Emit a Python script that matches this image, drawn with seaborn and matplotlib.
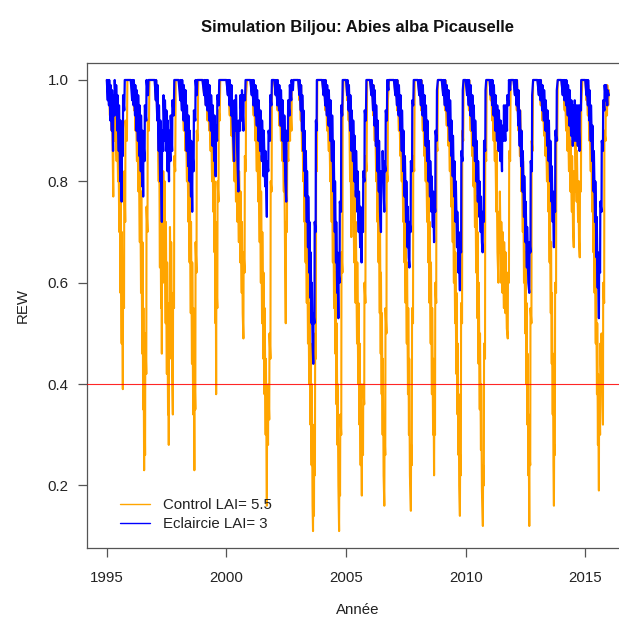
import matplotlib
matplotlib.use("Agg")
import matplotlib.pyplot as plt
import seaborn as sns
import pandas as pd

# Control (LAI 5.5): decimal year / REW, one row per year
ctrl_time = [
    [1995.00, 1995.06, 1995.08, 1995.13, 1995.14, 1995.20, 1995.21, 1995.27, 1995.28, 1995.34, 1995.35, 1995.41, 1995.42, 1995.47, 1995.48, 1995.52, 1995.53, 1995.57, 1995.58, 1995.62, 1995.63, 1995.67, 1995.68, 1995.72, 1995.73, 1995.77, 1995.78, 1995.84, 1995.86],
    [1996.00, 1996.08, 1996.09, 1996.14, 1996.15, 1996.20, 1996.21, 1996.26, 1996.27, 1996.32, 1996.33, 1996.38, 1996.39, 1996.43, 1996.44, 1996.48, 1996.49, 1996.52, 1996.53, 1996.56, 1996.57, 1996.60, 1996.61, 1996.65, 1996.66, 1996.70, 1996.71, 1996.76, 1996.78],
    [1997.00, 1997.05, 1997.06, 1997.11, 1997.12, 1997.17, 1997.18, 1997.22, 1997.23, 1997.27, 1997.28, 1997.30, 1997.31, 1997.35, 1997.36, 1997.41, 1997.42, 1997.46, 1997.47, 1997.51, 1997.52, 1997.56, 1997.57, 1997.59, 1997.60, 1997.63, 1997.64, 1997.68, 1997.69, 1997.73, 1997.76, 1997.77, 1997.81, 1997.82, 1997.86, 1997.88],
    [1998.00, 1998.08, 1998.09, 1998.15, 1998.16, 1998.22, 1998.23, 1998.29, 1998.30, 1998.35, 1998.36, 1998.41, 1998.42, 1998.46, 1998.47, 1998.51, 1998.52, 1998.56, 1998.57, 1998.61, 1998.62, 1998.66, 1998.67, 1998.70, 1998.71, 1998.75, 1998.76, 1998.80, 1998.82],
    [1999.00, 1999.07, 1999.08, 1999.14, 1999.15, 1999.21, 1999.22, 1999.28, 1999.29, 1999.34, 1999.35, 1999.40, 1999.41, 1999.45, 1999.46, 1999.50, 1999.51, 1999.54, 1999.55, 1999.57, 1999.58, 1999.62, 1999.63, 1999.67, 1999.68, 1999.72, 1999.74],
    [2000.00, 2000.07, 2000.08, 2000.14, 2000.15, 2000.21, 2000.22, 2000.28, 2000.29, 2000.34, 2000.35, 2000.40, 2000.41, 2000.46, 2000.47, 2000.52, 2000.53, 2000.58, 2000.59, 2000.64, 2000.65, 2000.68, 2000.71, 2000.72, 2000.76, 2000.77, 2000.81, 2000.82, 2000.86],
    [2001.00, 2001.07, 2001.08, 2001.14, 2001.15, 2001.21, 2001.22, 2001.27, 2001.28, 2001.33, 2001.34, 2001.39, 2001.40, 2001.44, 2001.45, 2001.49, 2001.50, 2001.54, 2001.55, 2001.59, 2001.60, 2001.64, 2001.65, 2001.69, 2001.70, 2001.74, 2001.75, 2001.79, 2001.80, 2001.84, 2001.85, 2001.89, 2001.90, 2001.93],
    [2002.00, 2002.07, 2002.08, 2002.14, 2002.15, 2002.21, 2002.22, 2002.28, 2002.29, 2002.34, 2002.35, 2002.40, 2002.41, 2002.45, 2002.48, 2002.49, 2002.53, 2002.54, 2002.59, 2002.60, 2002.66, 2002.67, 2002.72, 2002.73, 2002.78],
    [2003.00, 2003.05, 2003.06, 2003.11, 2003.12, 2003.16, 2003.17, 2003.21, 2003.22, 2003.26, 2003.27, 2003.31, 2003.32, 2003.36, 2003.37, 2003.41, 2003.42, 2003.46, 2003.47, 2003.51, 2003.52, 2003.56, 2003.57, 2003.60, 2003.62, 2003.63, 2003.66, 2003.67, 2003.70, 2003.71, 2003.74, 2003.75, 2003.78, 2003.80],
    [2004.00, 2004.07, 2004.08, 2004.14, 2004.15, 2004.21, 2004.22, 2004.28, 2004.29, 2004.34, 2004.35, 2004.40, 2004.41, 2004.45, 2004.46, 2004.50, 2004.51, 2004.55, 2004.56, 2004.60, 2004.61, 2004.64, 2004.65, 2004.68, 2004.71, 2004.72, 2004.75, 2004.76, 2004.80, 2004.81, 2004.85, 2004.86, 2004.90],
    [2005.00, 2005.05, 2005.06, 2005.11, 2005.12, 2005.17, 2005.18, 2005.22, 2005.23, 2005.28, 2005.29, 2005.34, 2005.35, 2005.40, 2005.41, 2005.46, 2005.47, 2005.51, 2005.52, 2005.56, 2005.57, 2005.61, 2005.62, 2005.66, 2005.67, 2005.71, 2005.72, 2005.76, 2005.77, 2005.81, 2005.82, 2005.86, 2005.88],
    [2006.00, 2006.07, 2006.08, 2006.14, 2006.15, 2006.20, 2006.21, 2006.26, 2006.27, 2006.31, 2006.32, 2006.36, 2006.37, 2006.41, 2006.42, 2006.45, 2006.46, 2006.49, 2006.50, 2006.53, 2006.54, 2006.57, 2006.60, 2006.61, 2006.64, 2006.65, 2006.69, 2006.70, 2006.74, 2006.75, 2006.80],
    [2007.00, 2007.07, 2007.08, 2007.14, 2007.15, 2007.21, 2007.22, 2007.27, 2007.28, 2007.33, 2007.34, 2007.39, 2007.40, 2007.44, 2007.45, 2007.49, 2007.50, 2007.54, 2007.55, 2007.59, 2007.60, 2007.63, 2007.64, 2007.67, 2007.71, 2007.72, 2007.75, 2007.76, 2007.80, 2007.81, 2007.85, 2007.87],
    [2008.00, 2008.07, 2008.08, 2008.14, 2008.15, 2008.21, 2008.22, 2008.27, 2008.28, 2008.33, 2008.34, 2008.39, 2008.40, 2008.44, 2008.45, 2008.49, 2008.50, 2008.54, 2008.55, 2008.59, 2008.60, 2008.64, 2008.65, 2008.68, 2008.69, 2008.72, 2008.73, 2008.77, 2008.78, 2008.82, 2008.84],
    [2009.00, 2009.07, 2009.08, 2009.14, 2009.15, 2009.21, 2009.22, 2009.28, 2009.29, 2009.34, 2009.35, 2009.40, 2009.41, 2009.46, 2009.47, 2009.51, 2009.52, 2009.56, 2009.57, 2009.61, 2009.62, 2009.66, 2009.67, 2009.70, 2009.71, 2009.73, 2009.76, 2009.77, 2009.80, 2009.81, 2009.85, 2009.86, 2009.90, 2009.92],
    [2010.00, 2010.07, 2010.08, 2010.14, 2010.15, 2010.21, 2010.22, 2010.27, 2010.28, 2010.33, 2010.34, 2010.39, 2010.40, 2010.44, 2010.45, 2010.49, 2010.50, 2010.54, 2010.55, 2010.59, 2010.60, 2010.64, 2010.65, 2010.68, 2010.72, 2010.73, 2010.76, 2010.77, 2010.81, 2010.82, 2010.86, 2010.88],
    [2011.00, 2011.05, 2011.06, 2011.11, 2011.12, 2011.17, 2011.18, 2011.22, 2011.23, 2011.28, 2011.29, 2011.33, 2011.37, 2011.38, 2011.42, 2011.43, 2011.48, 2011.49, 2011.54, 2011.55, 2011.60, 2011.61, 2011.66, 2011.67, 2011.72, 2011.76, 2011.77, 2011.81, 2011.82, 2011.86, 2011.88],
    [2012.00, 2012.07, 2012.08, 2012.14, 2012.15, 2012.21, 2012.22, 2012.27, 2012.28, 2012.33, 2012.34, 2012.39, 2012.40, 2012.44, 2012.45, 2012.49, 2012.50, 2012.54, 2012.55, 2012.58, 2012.59, 2012.62, 2012.63, 2012.66, 2012.67, 2012.70, 2012.71, 2012.75, 2012.76, 2012.80, 2012.82],
    [2013.00, 2013.07, 2013.08, 2013.14, 2013.15, 2013.21, 2013.22, 2013.28, 2013.29, 2013.34, 2013.35, 2013.40, 2013.41, 2013.46, 2013.47, 2013.51, 2013.52, 2013.56, 2013.57, 2013.60, 2013.61, 2013.64, 2013.65, 2013.67, 2013.69, 2013.70, 2013.73, 2013.74, 2013.78, 2013.79, 2013.83, 2013.85],
    [2014.00, 2014.07, 2014.08, 2014.14, 2014.15, 2014.20, 2014.21, 2014.26, 2014.27, 2014.32, 2014.33, 2014.38, 2014.39, 2014.44, 2014.45, 2014.49, 2014.52, 2014.53, 2014.58, 2014.59, 2014.64, 2014.65, 2014.70, 2014.71, 2014.74, 2014.77, 2014.78, 2014.82, 2014.83, 2014.88],
    [2015.00, 2015.05, 2015.06, 2015.11, 2015.12, 2015.17, 2015.18, 2015.23, 2015.24, 2015.29, 2015.30, 2015.34, 2015.35, 2015.39, 2015.40, 2015.44, 2015.45, 2015.49, 2015.50, 2015.53, 2015.54, 2015.57, 2015.58, 2015.62, 2015.63, 2015.67, 2015.68, 2015.72, 2015.74, 2015.75, 2015.79, 2015.80, 2015.85, 2015.86, 2015.91, 2015.92, 2015.96, 2015.99],
]
ctrl_rew = [
    [1.00, 0.97, 1.00, 0.93, 0.99, 0.90, 0.97, 0.77, 0.95, 0.88, 0.97, 0.84, 0.95, 0.80, 0.92, 0.70, 0.85, 0.58, 0.80, 0.48, 0.70, 0.39, 0.62, 0.55, 0.82, 0.72, 0.92, 0.88, 1.00],
    [1.00, 0.97, 1.00, 0.94, 0.99, 0.90, 0.97, 0.84, 0.95, 0.78, 0.90, 0.68, 0.85, 0.58, 0.78, 0.46, 0.68, 0.35, 0.55, 0.23, 0.40, 0.26, 0.50, 0.42, 0.75, 0.70, 0.92, 0.90, 1.00],
    [1.00, 0.96, 1.00, 0.92, 0.99, 0.80, 0.95, 0.63, 0.85, 0.55, 0.78, 0.46, 0.70, 0.60, 0.82, 0.64, 0.80, 0.52, 0.72, 0.42, 0.64, 0.34, 0.56, 0.28, 0.50, 0.45, 0.71, 0.55, 0.68, 0.42, 0.34, 0.58, 0.55, 0.85, 0.82, 1.00],
    [1.00, 0.97, 1.00, 0.94, 0.99, 0.90, 0.98, 0.86, 0.95, 0.80, 0.92, 0.72, 0.86, 0.64, 0.80, 0.54, 0.72, 0.44, 0.64, 0.34, 0.55, 0.23, 0.42, 0.35, 0.68, 0.62, 0.90, 0.88, 1.00],
    [1.00, 0.97, 1.00, 0.95, 1.00, 0.92, 0.99, 0.90, 0.97, 0.86, 0.95, 0.80, 0.92, 0.74, 0.87, 0.66, 0.80, 0.52, 0.72, 0.38, 0.60, 0.55, 0.80, 0.76, 0.94, 0.92, 1.00],
    [1.00, 0.97, 1.00, 0.93, 0.99, 0.89, 0.97, 0.84, 0.95, 0.80, 0.92, 0.76, 0.90, 0.72, 0.86, 0.68, 0.82, 0.64, 0.78, 0.58, 0.72, 0.54, 0.49, 0.66, 0.62, 0.85, 0.82, 0.97, 1.00],
    [1.00, 0.97, 1.00, 0.93, 0.99, 0.88, 0.97, 0.82, 0.94, 0.76, 0.90, 0.68, 0.85, 0.60, 0.78, 0.52, 0.70, 0.45, 0.62, 0.38, 0.55, 0.30, 0.45, 0.16, 0.34, 0.28, 0.40, 0.33, 0.50, 0.45, 0.80, 0.78, 0.96, 1.00],
    [1.00, 0.97, 1.00, 0.94, 1.00, 0.91, 0.98, 0.88, 0.96, 0.84, 0.93, 0.78, 0.90, 0.66, 0.52, 0.72, 0.70, 0.86, 0.84, 0.95, 0.88, 0.96, 0.90, 0.98, 1.00],
    [1.00, 0.96, 1.00, 0.92, 0.99, 0.86, 0.96, 0.80, 0.92, 0.72, 0.86, 0.64, 0.80, 0.56, 0.72, 0.48, 0.64, 0.40, 0.56, 0.32, 0.48, 0.24, 0.40, 0.16, 0.11, 0.22, 0.14, 0.32, 0.22, 0.50, 0.45, 0.85, 0.82, 1.00],
    [1.00, 0.97, 1.00, 0.94, 1.00, 0.90, 0.98, 0.86, 0.95, 0.80, 0.92, 0.72, 0.86, 0.64, 0.80, 0.55, 0.72, 0.46, 0.62, 0.36, 0.52, 0.28, 0.40, 0.20, 0.11, 0.24, 0.18, 0.34, 0.30, 0.66, 0.62, 0.95, 1.00],
    [1.00, 0.96, 1.00, 0.92, 0.99, 0.80, 0.94, 0.69, 0.86, 0.72, 0.84, 0.64, 0.78, 0.56, 0.72, 0.48, 0.64, 0.40, 0.56, 0.32, 0.48, 0.24, 0.40, 0.18, 0.30, 0.26, 0.40, 0.36, 0.60, 0.56, 0.85, 0.82, 1.00],
    [1.00, 0.97, 1.00, 0.93, 0.99, 0.88, 0.96, 0.80, 0.92, 0.72, 0.86, 0.64, 0.80, 0.54, 0.72, 0.46, 0.62, 0.38, 0.54, 0.30, 0.45, 0.22, 0.16, 0.30, 0.26, 0.55, 0.50, 0.82, 0.80, 0.96, 1.00],
    [1.00, 0.97, 1.00, 0.94, 1.00, 0.90, 0.97, 0.85, 0.94, 0.80, 0.90, 0.72, 0.85, 0.64, 0.78, 0.56, 0.72, 0.48, 0.64, 0.38, 0.55, 0.30, 0.45, 0.22, 0.15, 0.28, 0.24, 0.55, 0.52, 0.85, 0.82, 1.00],
    [1.00, 0.97, 1.00, 0.94, 1.00, 0.90, 0.97, 0.85, 0.94, 0.80, 0.90, 0.72, 0.85, 0.64, 0.78, 0.56, 0.72, 0.48, 0.64, 0.38, 0.55, 0.30, 0.45, 0.22, 0.34, 0.30, 0.60, 0.56, 0.88, 0.86, 1.00],
    [1.00, 0.97, 1.00, 0.94, 1.00, 0.91, 0.98, 0.87, 0.95, 0.82, 0.92, 0.75, 0.88, 0.68, 0.80, 0.60, 0.74, 0.52, 0.66, 0.42, 0.58, 0.34, 0.48, 0.26, 0.38, 0.20, 0.14, 0.26, 0.22, 0.56, 0.52, 0.90, 0.88, 1.00],
    [1.00, 0.97, 1.00, 0.94, 1.00, 0.90, 0.97, 0.85, 0.94, 0.79, 0.90, 0.71, 0.85, 0.62, 0.77, 0.53, 0.70, 0.44, 0.60, 0.35, 0.50, 0.27, 0.40, 0.19, 0.12, 0.24, 0.20, 0.48, 0.45, 0.86, 0.84, 1.00],
    [1.00, 0.96, 1.00, 0.92, 0.99, 0.88, 0.96, 0.84, 0.92, 0.74, 0.86, 0.66, 0.60, 0.74, 0.66, 0.78, 0.60, 0.72, 0.58, 0.70, 0.55, 0.68, 0.54, 0.66, 0.51, 0.49, 0.62, 0.60, 0.86, 0.84, 1.00],
    [1.00, 0.97, 1.00, 0.94, 1.00, 0.90, 0.97, 0.85, 0.94, 0.78, 0.90, 0.70, 0.84, 0.60, 0.76, 0.50, 0.66, 0.40, 0.56, 0.32, 0.46, 0.22, 0.34, 0.12, 0.26, 0.24, 0.55, 0.52, 0.88, 0.86, 1.00],
    [1.00, 0.97, 1.00, 0.95, 1.00, 0.92, 0.98, 0.89, 0.96, 0.85, 0.93, 0.80, 0.90, 0.74, 0.85, 0.64, 0.78, 0.54, 0.68, 0.44, 0.58, 0.34, 0.46, 0.24, 0.16, 0.28, 0.26, 0.60, 0.58, 0.90, 0.88, 1.00],
    [1.00, 0.97, 1.00, 0.94, 0.99, 0.90, 0.97, 0.86, 0.94, 0.82, 0.92, 0.78, 0.88, 0.74, 0.85, 0.70, 0.67, 0.82, 0.78, 0.88, 0.76, 0.86, 0.72, 0.80, 0.68, 0.65, 0.80, 0.78, 0.95, 1.00],
    [1.00, 0.96, 1.00, 0.93, 0.99, 0.88, 0.96, 0.82, 0.92, 0.74, 0.86, 0.66, 0.80, 0.58, 0.72, 0.48, 0.62, 0.38, 0.52, 0.28, 0.42, 0.19, 0.40, 0.30, 0.48, 0.40, 0.50, 0.36, 0.32, 0.60, 0.56, 0.90, 0.88, 0.98, 0.93, 0.99, 0.95, 0.98],
]

# Eclaircie (LAI 3)
ecl_time = [
    [1995.00, 1995.04, 1995.05, 1995.09, 1995.10, 1995.15, 1995.16, 1995.21, 1995.22, 1995.26, 1995.27, 1995.32, 1995.33, 1995.38, 1995.39, 1995.44, 1995.45, 1995.50, 1995.51, 1995.56, 1995.57, 1995.62, 1995.63, 1995.67, 1995.68, 1995.73, 1995.75],
    [1996.00, 1996.06, 1996.07, 1996.12, 1996.13, 1996.18, 1996.19, 1996.24, 1996.25, 1996.30, 1996.31, 1996.36, 1996.37, 1996.42, 1996.43, 1996.48, 1996.49, 1996.52, 1996.53, 1996.58, 1996.59, 1996.65, 1996.66, 1996.72, 1996.74],
    [1997.00, 1997.05, 1997.06, 1997.11, 1997.12, 1997.17, 1997.18, 1997.23, 1997.24, 1997.30, 1997.31, 1997.36, 1997.37, 1997.42, 1997.43, 1997.48, 1997.49, 1997.54, 1997.55, 1997.60, 1997.61, 1997.66, 1997.67, 1997.73, 1997.74, 1997.80, 1997.82],
    [1998.00, 1998.07, 1998.08, 1998.14, 1998.15, 1998.21, 1998.22, 1998.28, 1998.29, 1998.34, 1998.35, 1998.40, 1998.41, 1998.46, 1998.47, 1998.52, 1998.53, 1998.57, 1998.58, 1998.63, 1998.64, 1998.70, 1998.71, 1998.76, 1998.78],
    [1999.00, 1999.07, 1999.08, 1999.14, 1999.15, 1999.21, 1999.22, 1999.28, 1999.29, 1999.35, 1999.36, 1999.42, 1999.43, 1999.49, 1999.50, 1999.55, 1999.56, 1999.61, 1999.62, 1999.68, 1999.70],
    [2000.00, 2000.06, 2000.07, 2000.13, 2000.14, 2000.20, 2000.21, 2000.27, 2000.32, 2000.33, 2000.39, 2000.40, 2000.45, 2000.50, 2000.51, 2000.57, 2000.58, 2000.64, 2000.65, 2000.71, 2000.72, 2000.78, 2000.80],
    [2001.00, 2001.06, 2001.07, 2001.13, 2001.14, 2001.20, 2001.21, 2001.27, 2001.28, 2001.34, 2001.35, 2001.41, 2001.42, 2001.48, 2001.49, 2001.55, 2001.56, 2001.62, 2001.63, 2001.69, 2001.70, 2001.75, 2001.76, 2001.82, 2001.83, 2001.88, 2001.90],
    [2002.00, 2002.06, 2002.07, 2002.13, 2002.14, 2002.20, 2002.21, 2002.27, 2002.28, 2002.34, 2002.35, 2002.41, 2002.42, 2002.46, 2002.50, 2002.51, 2002.57, 2002.58, 2002.64, 2002.65, 2002.71, 2002.72, 2002.78, 2002.80],
    [2003.00, 2003.05, 2003.06, 2003.11, 2003.12, 2003.16, 2003.17, 2003.21, 2003.22, 2003.26, 2003.27, 2003.31, 2003.32, 2003.36, 2003.37, 2003.41, 2003.42, 2003.46, 2003.47, 2003.51, 2003.52, 2003.56, 2003.57, 2003.60, 2003.63, 2003.64, 2003.68, 2003.69, 2003.73, 2003.74, 2003.77, 2003.78],
    [2004.00, 2004.06, 2004.07, 2004.13, 2004.14, 2004.20, 2004.21, 2004.27, 2004.28, 2004.34, 2004.35, 2004.41, 2004.42, 2004.47, 2004.48, 2004.53, 2004.54, 2004.58, 2004.59, 2004.63, 2004.64, 2004.68, 2004.69, 2004.73, 2004.74, 2004.79, 2004.80, 2004.84, 2004.86],
    [2005.00, 2005.05, 2005.06, 2005.11, 2005.12, 2005.17, 2005.18, 2005.23, 2005.24, 2005.29, 2005.30, 2005.35, 2005.36, 2005.41, 2005.42, 2005.47, 2005.48, 2005.53, 2005.54, 2005.59, 2005.60, 2005.65, 2005.66, 2005.71, 2005.72, 2005.77, 2005.78, 2005.83, 2005.85],
    [2006.00, 2006.06, 2006.07, 2006.13, 2006.14, 2006.19, 2006.20, 2006.25, 2006.26, 2006.31, 2006.32, 2006.37, 2006.38, 2006.42, 2006.46, 2006.47, 2006.52, 2006.53, 2006.57, 2006.60, 2006.61, 2006.65, 2006.66, 2006.71, 2006.72, 2006.77, 2006.78],
    [2007.00, 2007.06, 2007.07, 2007.13, 2007.14, 2007.20, 2007.21, 2007.27, 2007.28, 2007.33, 2007.34, 2007.39, 2007.40, 2007.45, 2007.46, 2007.51, 2007.52, 2007.57, 2007.58, 2007.62, 2007.65, 2007.66, 2007.70, 2007.71, 2007.76, 2007.77, 2007.81, 2007.83],
    [2008.00, 2008.06, 2008.07, 2008.13, 2008.14, 2008.20, 2008.21, 2008.27, 2008.28, 2008.33, 2008.34, 2008.39, 2008.40, 2008.45, 2008.46, 2008.51, 2008.52, 2008.57, 2008.58, 2008.63, 2008.64, 2008.68, 2008.69, 2008.73, 2008.74, 2008.79, 2008.80, 2008.84],
    [2009.00, 2009.06, 2009.07, 2009.13, 2009.14, 2009.20, 2009.21, 2009.27, 2009.28, 2009.34, 2009.35, 2009.40, 2009.41, 2009.46, 2009.47, 2009.52, 2009.53, 2009.58, 2009.59, 2009.64, 2009.65, 2009.70, 2009.71, 2009.76, 2009.77, 2009.81, 2009.82, 2009.87, 2009.88, 2009.91],
    [2010.00, 2010.06, 2010.07, 2010.13, 2010.14, 2010.20, 2010.21, 2010.27, 2010.28, 2010.33, 2010.34, 2010.39, 2010.40, 2010.45, 2010.46, 2010.51, 2010.52, 2010.57, 2010.58, 2010.63, 2010.64, 2010.68, 2010.71, 2010.72, 2010.76, 2010.77, 2010.82, 2010.83, 2010.86],
    [2011.00, 2011.05, 2011.06, 2011.11, 2011.12, 2011.17, 2011.18, 2011.24, 2011.25, 2011.31, 2011.32, 2011.38, 2011.39, 2011.45, 2011.46, 2011.52, 2011.53, 2011.59, 2011.60, 2011.66, 2011.67, 2011.73, 2011.74, 2011.80, 2011.81, 2011.86, 2011.88],
    [2012.00, 2012.06, 2012.07, 2012.13, 2012.14, 2012.20, 2012.21, 2012.26, 2012.27, 2012.32, 2012.33, 2012.38, 2012.39, 2012.44, 2012.45, 2012.50, 2012.51, 2012.56, 2012.57, 2012.62, 2012.66, 2012.67, 2012.71, 2012.72, 2012.77, 2012.78, 2012.82],
    [2013.00, 2013.06, 2013.07, 2013.13, 2013.14, 2013.20, 2013.21, 2013.27, 2013.28, 2013.34, 2013.35, 2013.41, 2013.42, 2013.47, 2013.48, 2013.53, 2013.54, 2013.59, 2013.60, 2013.64, 2013.65, 2013.69, 2013.70, 2013.74, 2013.75, 2013.80, 2013.81, 2013.85],
    [2014.00, 2014.06, 2014.07, 2014.13, 2014.14, 2014.20, 2014.21, 2014.27, 2014.28, 2014.34, 2014.35, 2014.41, 2014.42, 2014.48, 2014.49, 2014.55, 2014.56, 2014.62, 2014.63, 2014.69, 2014.70, 2014.76, 2014.77, 2014.82, 2014.83, 2014.88],
    [2015.00, 2015.05, 2015.06, 2015.11, 2015.12, 2015.17, 2015.18, 2015.23, 2015.24, 2015.29, 2015.30, 2015.35, 2015.36, 2015.41, 2015.42, 2015.47, 2015.48, 2015.52, 2015.53, 2015.57, 2015.58, 2015.62, 2015.63, 2015.68, 2015.69, 2015.74, 2015.75, 2015.80, 2015.81, 2015.86, 2015.87, 2015.92, 2015.93, 2015.99],
]
ecl_rew = [
    [1.00, 0.96, 1.00, 0.95, 1.00, 0.92, 0.99, 0.90, 0.98, 0.86, 0.97, 0.93, 1.00, 0.94, 0.99, 0.90, 0.97, 0.86, 0.95, 0.80, 0.92, 0.76, 0.90, 0.85, 0.97, 0.94, 1.00],
    [1.00, 0.96, 1.00, 0.95, 1.00, 0.93, 0.99, 0.90, 0.98, 0.88, 0.97, 0.85, 0.95, 0.82, 0.93, 0.79, 0.90, 0.77, 0.88, 0.84, 0.95, 0.92, 1.00, 0.97, 1.00],
    [1.00, 0.96, 1.00, 0.92, 0.99, 0.86, 0.95, 0.80, 0.92, 0.72, 0.90, 0.86, 0.97, 0.88, 0.96, 0.86, 0.94, 0.82, 0.92, 0.80, 0.90, 0.84, 0.93, 0.86, 0.96, 0.93, 1.00],
    [1.00, 0.96, 1.00, 0.94, 1.00, 0.92, 0.99, 0.90, 0.98, 0.86, 0.95, 0.83, 0.93, 0.80, 0.90, 0.77, 0.88, 0.74, 0.86, 0.82, 0.94, 0.92, 1.00, 0.97, 1.00],
    [1.00, 0.97, 1.00, 0.95, 1.00, 0.94, 1.00, 0.92, 0.99, 0.90, 0.97, 0.87, 0.95, 0.84, 0.93, 0.81, 0.91, 0.88, 0.97, 0.95, 1.00],
    [1.00, 0.97, 1.00, 0.95, 1.00, 0.93, 0.99, 0.90, 0.84, 0.96, 0.90, 0.97, 0.86, 0.78, 0.92, 0.90, 0.97, 0.92, 0.98, 0.90, 0.97, 0.96, 1.00],
    [1.00, 0.97, 1.00, 0.95, 1.00, 0.93, 0.99, 0.91, 0.98, 0.88, 0.96, 0.86, 0.94, 0.84, 0.92, 0.81, 0.90, 0.79, 0.86, 0.73, 0.84, 0.82, 0.90, 0.88, 0.97, 0.95, 1.00],
    [1.00, 0.97, 1.00, 0.95, 1.00, 0.94, 0.99, 0.91, 0.98, 0.88, 0.96, 0.84, 0.93, 0.80, 0.76, 0.90, 0.88, 0.96, 0.93, 0.99, 0.96, 1.00, 0.98, 1.00],
    [1.00, 0.97, 1.00, 0.94, 0.99, 0.90, 0.97, 0.86, 0.94, 0.82, 0.90, 0.77, 0.86, 0.72, 0.82, 0.67, 0.77, 0.62, 0.72, 0.57, 0.66, 0.52, 0.60, 0.48, 0.44, 0.54, 0.52, 0.72, 0.70, 0.92, 0.90, 1.00],
    [1.00, 0.97, 1.00, 0.95, 1.00, 0.93, 0.99, 0.91, 0.98, 0.88, 0.96, 0.84, 0.93, 0.78, 0.88, 0.70, 0.80, 0.64, 0.72, 0.58, 0.66, 0.53, 0.62, 0.60, 0.76, 0.74, 0.95, 0.93, 1.00],
    [1.00, 0.97, 1.00, 0.94, 0.99, 0.90, 0.97, 0.86, 0.94, 0.84, 0.92, 0.80, 0.89, 0.77, 0.86, 0.74, 0.82, 0.70, 0.78, 0.67, 0.75, 0.64, 0.72, 0.70, 0.82, 0.80, 0.94, 0.92, 1.00],
    [1.00, 0.97, 1.00, 0.94, 0.99, 0.91, 0.98, 0.87, 0.95, 0.82, 0.92, 0.78, 0.88, 0.74, 0.70, 0.82, 0.80, 0.86, 0.78, 0.74, 0.84, 0.82, 0.94, 0.92, 1.00, 0.98, 1.00],
    [1.00, 0.97, 1.00, 0.95, 1.00, 0.93, 0.99, 0.90, 0.97, 0.86, 0.94, 0.82, 0.90, 0.77, 0.85, 0.72, 0.80, 0.67, 0.75, 0.65, 0.63, 0.72, 0.70, 0.84, 0.82, 0.96, 0.95, 1.00],
    [1.00, 0.97, 1.00, 0.95, 1.00, 0.93, 0.99, 0.90, 0.97, 0.87, 0.95, 0.84, 0.92, 0.80, 0.88, 0.77, 0.84, 0.74, 0.81, 0.71, 0.78, 0.68, 0.76, 0.74, 0.90, 0.88, 0.98, 1.00],
    [1.00, 0.97, 1.00, 0.95, 1.00, 0.94, 0.99, 0.91, 0.98, 0.88, 0.96, 0.85, 0.92, 0.81, 0.89, 0.77, 0.84, 0.72, 0.80, 0.67, 0.74, 0.62, 0.70, 0.585, 0.68, 0.66, 0.86, 0.84, 0.98, 1.00],
    [1.00, 0.97, 1.00, 0.95, 1.00, 0.93, 0.99, 0.90, 0.97, 0.87, 0.95, 0.84, 0.92, 0.80, 0.88, 0.76, 0.84, 0.73, 0.80, 0.70, 0.77, 0.68, 0.66, 0.74, 0.72, 0.88, 0.86, 0.98, 1.00],
    [1.00, 0.97, 1.00, 0.95, 1.00, 0.93, 0.99, 0.90, 0.97, 0.88, 0.95, 0.86, 0.94, 0.84, 0.92, 0.82, 0.91, 0.88, 0.95, 0.88, 0.95, 0.90, 0.97, 0.95, 1.00, 0.98, 1.00],
    [1.00, 0.97, 1.00, 0.95, 1.00, 0.91, 0.98, 0.87, 0.94, 0.83, 0.90, 0.78, 0.86, 0.73, 0.81, 0.68, 0.76, 0.63, 0.71, 0.60, 0.58, 0.68, 0.66, 0.84, 0.82, 0.97, 1.00],
    [1.00, 0.97, 1.00, 0.96, 1.00, 0.94, 0.99, 0.92, 0.98, 0.90, 0.96, 0.87, 0.94, 0.84, 0.92, 0.80, 0.88, 0.76, 0.83, 0.72, 0.78, 0.67, 0.76, 0.74, 0.90, 0.88, 0.98, 1.00],
    [1.00, 0.97, 1.00, 0.96, 1.00, 0.95, 1.00, 0.93, 0.99, 0.91, 0.98, 0.89, 0.96, 0.87, 0.95, 0.88, 0.96, 0.88, 0.95, 0.87, 0.95, 0.86, 0.95, 0.94, 1.00, 1.00],
    [1.00, 0.97, 1.00, 0.95, 1.00, 0.92, 0.98, 0.88, 0.95, 0.84, 0.91, 0.78, 0.86, 0.72, 0.80, 0.65, 0.73, 0.59, 0.66, 0.53, 0.64, 0.62, 0.76, 0.74, 0.88, 0.86, 0.96, 0.94, 0.99, 0.96, 0.99, 0.95, 0.98, 0.97],
]

series_labels = ["Control LAI= 5.5", "Eclaircie LAI= 3"]
threshold = 0.4
x_ticks = [1995, 2000, 2005, 2010, 2015]
y_ticks = [0.2, 0.4, 0.6, 0.8, 1.0]

# sanity check: every year row needs as many dates as values
for name, times, vals in [("ctrl", ctrl_time, ctrl_rew), ("ecl", ecl_time, ecl_rew)]:
    for t_row, v_row in zip(times, vals):
        if len(t_row) != len(v_row):
            raise ValueError(f"{name} {int(t_row[0])}: {len(t_row)} dates vs {len(v_row)} values")

ctrl_df = pd.DataFrame({"Annee": [t for row in ctrl_time for t in row],
                        "REW": [v for row in ctrl_rew for v in row]})
ecl_df = pd.DataFrame({"Annee": [t for row in ecl_time for t in row],
                       "REW": [v for row in ecl_rew for v in row]})

sns.set_theme(style="ticks")
plt.rcParams["font.family"] = ["Liberation Sans", "DejaVu Sans"]

fig = plt.figure(figsize=(6.19, 6.19), dpi=100)
ax = fig.add_axes([0.1401, 0.1142, 0.8765, 0.7840])

sns.lineplot(data=ctrl_df, x="Annee", y="REW", color="#FFA500", linewidth=1.5,
             sort=False, estimator=None, label=series_labels[0], ax=ax)
sns.lineplot(data=ecl_df, x="Annee", y="REW", color="#0000FF", linewidth=1.6,
             sort=False, estimator=None, label=series_labels[1], ax=ax)
ax.axhline(threshold, color="#FF0000", linewidth=0.8, alpha=0.85, zorder=5)

ax.set_xlim(1994.16, 2016.84)
ax.set_ylim(0.076, 1.0335)
ax.set_xticks(x_ticks)
ax.set_yticks(y_ticks)
ax.set_yticklabels([f"{v:.1f}" for v in y_ticks])

frame = "#555555"
for side in ax.spines.values():
    side.set_color(frame)
    side.set_linewidth(0.9)
ax.tick_params(axis="both", colors=frame, labelcolor="#222222", labelsize=10.8,
               length=6.5, width=0.9)
ax.tick_params(axis="x", pad=10)
ax.tick_params(axis="y", pad=6.5)

ax.set_xlabel("Année", fontsize=10.8, color="#222222", labelpad=13)
ax.set_ylabel("REW", fontsize=10.8, color="#222222", labelpad=13)
ax.set_title("Simulation Biljou: Abies alba Picauselle", fontsize=12,
             fontweight="bold", color="#111111", pad=22)

leg = ax.legend(loc="upper left", bbox_to_anchor=(0.0614, 0.103), frameon=False,
                fontsize=10.8, borderpad=0, borderaxespad=0, handlelength=2.0,
                handletextpad=0.85, labelspacing=0.3)
for line in leg.get_lines():
    line.set_linewidth(1.0)
for txt in leg.get_texts():
    txt.set_color("#222222")

fig.savefig("out.png", dpi=100)
